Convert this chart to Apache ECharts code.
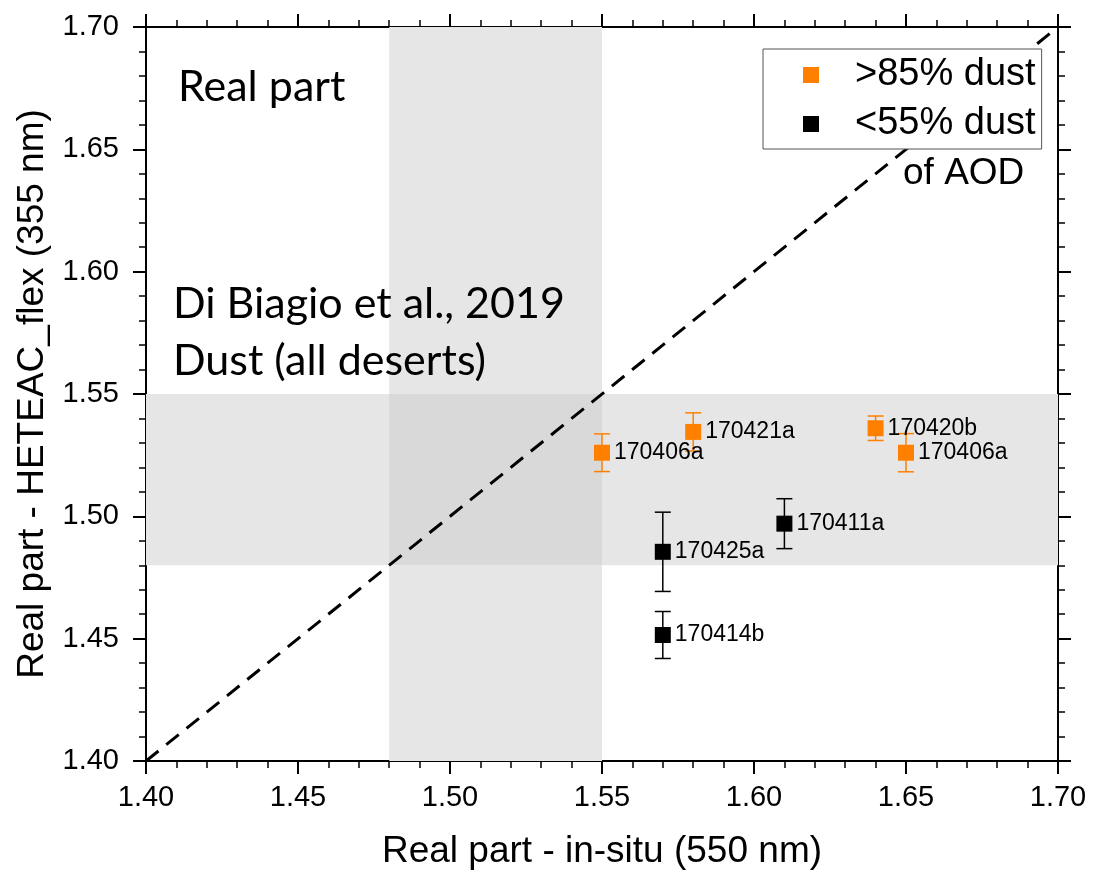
<!DOCTYPE html>
<html>
<head>
<meta charset="utf-8">
<script src="https://cdn.jsdelivr.net/npm/echarts@6/dist/echarts.min.js"></script>
<style>html,body{margin:0;padding:0;background:#fff}#c{width:1094px;height:875px}</style>
</head>
<body>
<div id="c"></div>
<script>
// ---- data ----
var axisMin = 1.40, axisMax = 1.70, axisStep = 0.05;
var dustHighNames = ['170406a', '170421a', '170420b', '170406a'];
var dustHighX = [1.55, 1.58, 1.64, 1.65];
var dustHighY = [1.526, 1.5345, 1.536, 1.526];
var dustHighErr = [0.0077, 0.0078, 0.005, 0.0078];
var dustLowNames = ['170425a', '170411a', '170414b'];
var dustLowX = [1.57, 1.61, 1.57];
var dustLowY = [1.4855, 1.497, 1.4515];
var dustLowErr = [0.0162, 0.0102, 0.0096];
var bandX = [1.48, 1.55];   // Di Biagio et al. 2019 range (in-situ)
var bandY = [1.48, 1.55];   // Di Biagio et al. 2019 range (HETEAC)
var oneToOne = [[1.40, 1.40], [1.70, 1.70]];
var legendNames = ['>85% dust', '<55% dust'];

var ORANGE = '#ff8000', BLACK = '#000000';
var FONT = 'Liberation Sans, Arial, sans-serif';
var NOTE_FONT = 'Lato, Carlito, Calibri, sans-serif';

function pts(xs, ys, names) {
  return xs.map(function (x, i) { return { name: names[i], value: [x, ys[i]] }; });
}
function errs(xs, ys, es) {
  return xs.map(function (x, i) { return [x, ys[i] - es[i], ys[i] + es[i]]; });
}
function errRender(color) {
  return function (params, api) {
    var x = api.value(0);
    var lo = api.coord([x, api.value(1)]);
    var hi = api.coord([x, api.value(2)]);
    var hw = 8;
    var st = { stroke: color, lineWidth: 1.5 };
    return {
      type: 'group',
      children: [
        { type: 'line', shape: { x1: lo[0], y1: lo[1], x2: hi[0], y2: hi[1] }, style: st },
        { type: 'line', shape: { x1: lo[0] - hw, y1: lo[1], x2: lo[0] + hw, y2: lo[1] }, style: st },
        { type: 'line', shape: { x1: hi[0] - hw, y1: hi[1], x2: hi[0] + hw, y2: hi[1] }, style: st }
      ]
    };
  };
}

var axLine = { show: true, onZero: false, lineStyle: { color: '#000', width: 2 } };
var axTick = { show: true, inside: false, length: 13, lineStyle: { color: '#000', width: 2 } };
var axMinor = { show: true, splitNumber: 5, length: 7, lineStyle: { color: '#000', width: 1.5 } };
function baseAxis(extra) {
  var a = {
    type: 'value', min: axisMin, max: axisMax, interval: axisStep,
    axisLine: axLine, axisTick: axTick, minorTick: axMinor,
    splitLine: { show: false }, minorSplitLine: { show: false }
  };
  for (var k in extra) a[k] = extra[k];
  return a;
}
var lblFmt = function (v) { return v.toFixed(2); };

var chart = echarts.init(document.getElementById('c'), null, { renderer: 'canvas' });
var G = '#e6e6e6', G2 = '#d9d9d9';
chart.setOption({
  animation: false,
  backgroundColor: '#fff',
  grid: { left: 146, right: 36, top: 27, bottom: 114, containLabel: false },
  xAxis: [
    baseAxis({
      position: 'bottom',
      axisLabel: { formatter: lblFmt, fontSize: 29, color: '#000', fontFamily: FONT, margin: 22 },
      name: 'Real part - in-situ (550 nm)', nameLocation: 'middle', nameGap: 72,
      nameTextStyle: { fontSize: 37, color: '#000', fontFamily: FONT }
    }),
    baseAxis({ position: 'top', axisLabel: { show: false } })
  ],
  yAxis: [
    baseAxis({
      position: 'left',
      axisLabel: { formatter: lblFmt, fontSize: 29, color: '#000', fontFamily: FONT, margin: 27 },
      name: 'Real part - HETEAC_flex (355 nm)', nameLocation: 'middle', nameGap: 94,
      nameTextStyle: { fontSize: 37, color: '#000', fontFamily: FONT }
    }),
    baseAxis({ position: 'right', axisLabel: { show: false } })
  ],
  legend: {
    data: legendNames,
    orient: 'vertical', left: 763, top: 49,
    itemWidth: 16, itemHeight: 16, itemGap: 11,
    padding: [7, 6, 6, 40],
    borderColor: '#555', borderWidth: 1, backgroundColor: '#fff',
    textStyle: { fontSize: 38, color: '#000', fontFamily: FONT, lineHeight: 38, padding: [0, 0, 0, 31] },
    selectedMode: false
  },
  graphic: [
    { type: 'text', left: 178, top: 66, z: 100, style: { text: 'Real part', fontSize: 43, fill: '#000', fontFamily: NOTE_FONT } },
    { type: 'text', left: 173, top: 283, z: 100, style: { text: 'Di Biagio et al., 2019', fontSize: 43, fill: '#000', fontFamily: NOTE_FONT } },
    { type: 'text', left: 173, top: 340, z: 100, style: { text: 'Dust (all deserts)', fontSize: 43, fill: '#000', fontFamily: NOTE_FONT } },
    { type: 'text', left: 903, top: 155, z: 100, style: { text: 'of AOD', fontSize: 37, fill: '#000', fontFamily: FONT } }
  ],
  series: [
    {
      name: 'bands', type: 'line', data: [], silent: true, z: 1,
      markArea: {
        silent: true,
        data: [
          [{ coord: [axisMin, bandY[0]], itemStyle: { color: G } }, { coord: [axisMax, bandY[1]] }],
          [{ coord: [bandX[0], bandY[1]], itemStyle: { color: G } }, { coord: [bandX[1], axisMax] }],
          [{ coord: [bandX[0], axisMin], itemStyle: { color: G } }, { coord: [bandX[1], bandY[0]] }],
          [{ coord: [bandX[0], bandY[0]], itemStyle: { color: G2 } }, { coord: [bandX[1], bandY[1]] }]
        ]
      }
    },
    {
      name: '1:1', type: 'line', data: oneToOne, symbol: 'none', silent: true, z: 3,
      lineStyle: { color: '#000', width: 3, type: [16, 10] }
    },
    {
      name: 'errHigh', type: 'custom', data: errs(dustHighX, dustHighY, dustHighErr),
      renderItem: errRender(ORANGE), z: 4, silent: true,
      encode: { x: 0, y: [1, 2] }
    },
    {
      name: 'errLow', type: 'custom', data: errs(dustLowX, dustLowY, dustLowErr),
      renderItem: errRender(BLACK), z: 4, silent: true,
      encode: { x: 0, y: [1, 2] }
    },
    {
      name: legendNames[0], type: 'scatter', data: pts(dustHighX, dustHighY, dustHighNames),
      symbol: 'rect', symbolSize: 16, z: 5,
      itemStyle: { color: ORANGE, opacity: 1 },
      label: { show: true, position: 'right', distance: 4, formatter: '{b}', fontSize: 23, color: '#000', fontFamily: FONT }
    },
    {
      name: legendNames[1], type: 'scatter', data: pts(dustLowX, dustLowY, dustLowNames),
      symbol: 'rect', symbolSize: 16, z: 5,
      itemStyle: { color: BLACK, opacity: 1 },
      label: { show: true, position: 'right', distance: 4, formatter: '{b}', fontSize: 23, color: '#000', fontFamily: FONT }
    }
  ]
});
</script>
</body>
</html>
